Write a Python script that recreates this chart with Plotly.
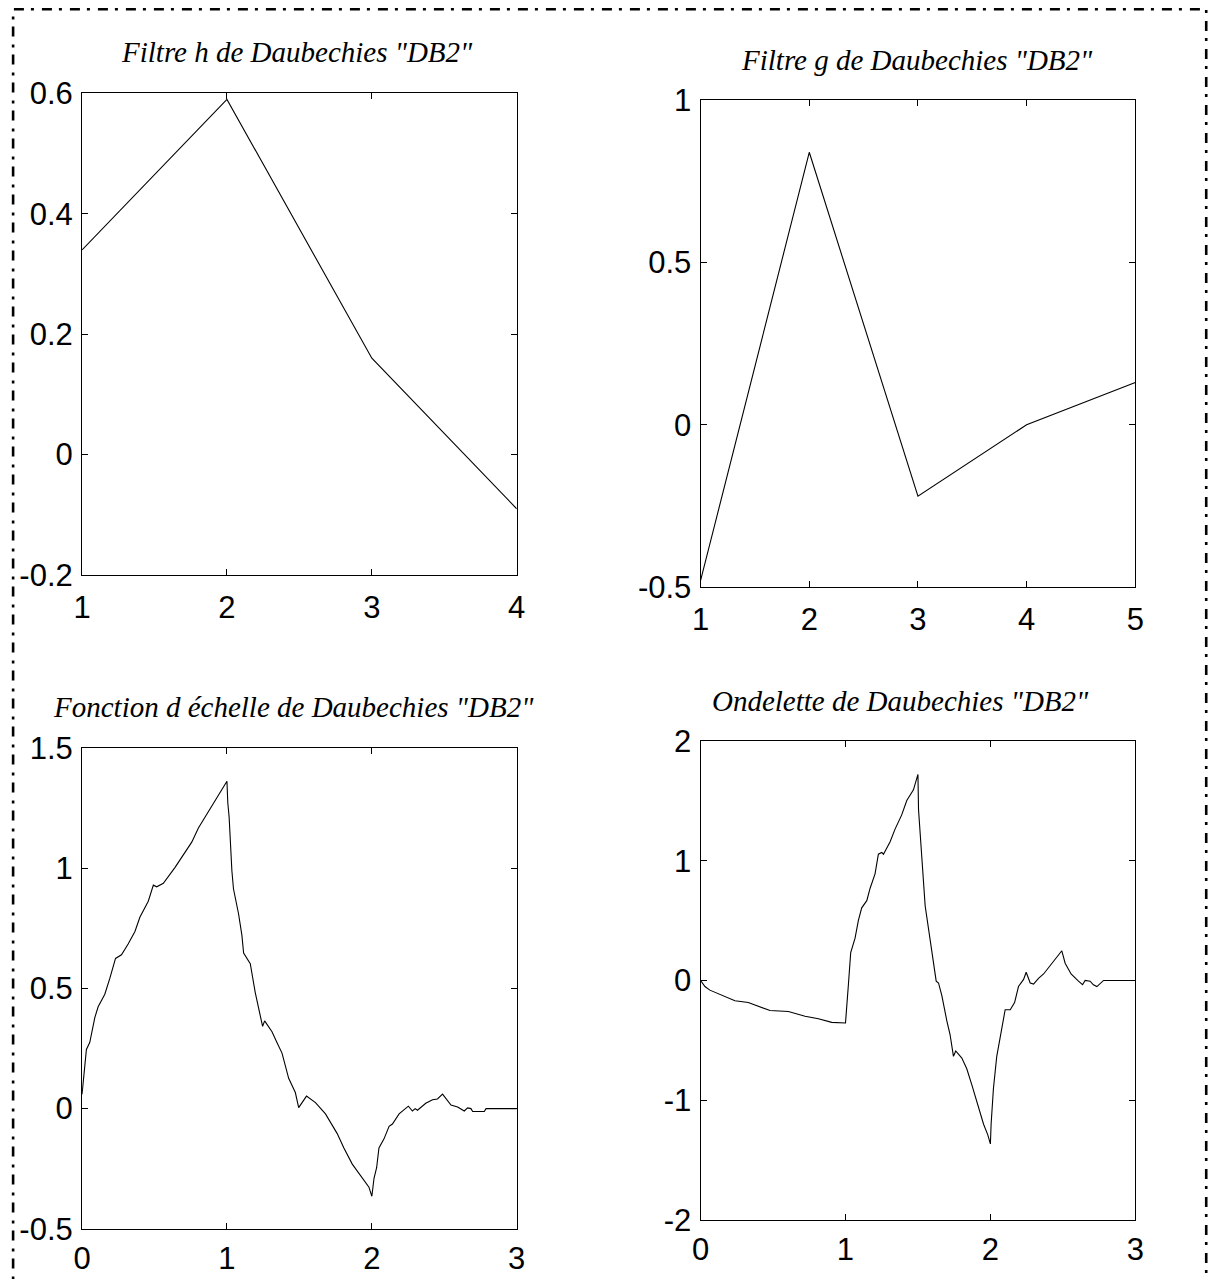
import plotly.graph_objects as go

# ---- data ----
h_n = [1, 2, 3, 4]
h_vals = [0.34, 0.59, 0.16, -0.09]

g_n = [1, 2, 3, 4, 5]
g_vals = [-0.48, 0.84, -0.22, 0.0, 0.13]

phi_t = [0, 0.014, 0.030, 0.053, 0.088, 0.111, 0.157, 0.192, 0.231, 0.272, 0.318, 0.365, 0.399, 0.457,
         0.492, 0.515, 0.561, 0.642, 0.757, 0.803, 0.872, 0.965, 1.0, 1.006, 1.015, 1.034, 1.045, 1.080,
         1.103, 1.115, 1.161, 1.195, 1.230, 1.246, 1.260, 1.311, 1.345, 1.380, 1.426, 1.472, 1.495, 1.549,
         1.611, 1.680, 1.761, 1.807, 1.865, 1.957, 1.980, 2.0, 2.015, 2.033, 2.049, 2.084, 2.119, 2.142,
         2.188, 2.252, 2.280, 2.299, 2.315, 2.372, 2.419, 2.453, 2.488, 2.546, 2.592, 2.638, 2.661, 2.684,
         2.696, 2.776, 2.788, 3.0]
phi_v = [0.06, 0.141, 0.246, 0.275, 0.379, 0.424, 0.476, 0.543, 0.625, 0.640, 0.685, 0.737, 0.796, 0.863,
         0.930, 0.923, 0.938, 1.004, 1.109, 1.168, 1.235, 1.324, 1.362, 1.272, 1.213, 0.990, 0.915, 0.811,
         0.722, 0.647, 0.603, 0.484, 0.394, 0.342, 0.365, 0.320, 0.275, 0.231, 0.126, 0.067, 0.004, 0.052,
         0.025, -0.022, -0.104, -0.164, -0.231, -0.305, -0.327, -0.365, -0.290, -0.246, -0.164, -0.126,
         -0.074, -0.064, -0.022, 0.010, -0.010, 0.0, -0.007, 0.022, 0.037, 0.040, 0.060, 0.015, 0.007,
         -0.010, 0.003, 0.0, -0.012, -0.012, 0.0, 0.0]

psi_t = [0, 0.030, 0.064, 0.145, 0.237, 0.329, 0.421, 0.479, 0.606, 0.721, 0.813, 0.905, 1.0, 1.008,
         1.020, 1.036, 1.066, 1.089, 1.112, 1.147, 1.170, 1.204, 1.227, 1.250, 1.262, 1.308, 1.342, 1.388,
         1.423, 1.469, 1.5, 1.504, 1.522, 1.538, 1.550, 1.573, 1.596, 1.626, 1.642, 1.665, 1.699, 1.722,
         1.745, 1.761, 1.803, 1.837, 1.872, 1.918, 1.953, 1.982, 2.0, 2.005, 2.021, 2.044, 2.068, 2.102,
         2.137, 2.167, 2.194, 2.229, 2.247, 2.275, 2.298, 2.332, 2.367, 2.424, 2.470, 2.493, 2.516, 2.557,
         2.608, 2.636, 2.654, 2.688, 2.711, 2.735, 2.781, 3.0]
psi_v = [0, -0.051, -0.081, -0.120, -0.170, -0.185, -0.224, -0.251, -0.260, -0.299, -0.320, -0.350,
         -0.356, -0.185, -0.036, 0.233, 0.353, 0.502, 0.607, 0.667, 0.771, 0.891, 1.055, 1.070, 1.055,
         1.160, 1.265, 1.384, 1.504, 1.593, 1.722, 1.429, 1.070, 0.831, 0.622, 0.442, 0.233, -0.006,
         -0.021, -0.126, -0.335, -0.454, -0.634, -0.589, -0.649, -0.738, -0.873, -1.067, -1.202, -1.291,
         -1.366, -1.202, -0.903, -0.634, -0.484, -0.245, -0.245, -0.185, -0.051, 0.009, 0.069, -0.021,
         -0.030, 0.018, 0.054, 0.144, 0.218, 0.248, 0.144, 0.054, -0.006, -0.036, 0.0, -0.006, -0.036,
         -0.051, 0.0, 0.0]

titles = ['Filtre h de Daubechies "DB2"', 'Filtre g de Daubechies "DB2"',
          'Fonction d échelle de Daubechies "DB2"', 'Ondelette de Daubechies "DB2"']

h_yticks = [-0.2, 0, 0.2, 0.4, 0.6]
h_ylabels = ["-0.2", "0", "0.2", "0.4", "0.6"]
g_yticks = [-0.5, 0, 0.5, 1]
g_ylabels = ["-0.5", "0", "0.5", "1"]
phi_yticks = [-0.5, 0, 0.5, 1, 1.5]
phi_ylabels = ["-0.5", "0", "0.5", "1", "1.5"]
psi_yticks = [-2, -1, 0, 1, 2]
psi_ylabels = ["-2", "-1", "0", "1", "2"]
t_ticks = [0, 1, 2, 3]

# page -> picture mapping observed in this renderer (offset + slight shrink)
SX, SY = 0.986, 0.972
OX, OY = 8.0, 17.2
W, H = 1222, 1305
TICKFONT = dict(family="Liberation Sans, Arial, sans-serif", size=31, color="black")
TITLEFONT = dict(family="Liberation Serif, Times New Roman, serif", size=29, color="black", style="italic")

def fx(X):
    return (X / SX - OX) / W

def fy(Y):
    return 1 - (Y / SY - OY) / H

def px_x(a, b):
    return [fx(a), fx(b)]

def px_y(top, bottom):
    return [fy(bottom), fy(top)]

fig = go.Figure()
line = dict(color="black", width=1.1)
fig.add_trace(go.Scatter(x=h_n, y=h_vals, mode="lines", line=line, xaxis="x", yaxis="y"))
fig.add_trace(go.Scatter(x=g_n, y=g_vals, mode="lines", line=line, xaxis="x2", yaxis="y2"))
fig.add_trace(go.Scatter(x=phi_t, y=phi_v, mode="lines", line=line, xaxis="x3", yaxis="y3"))
fig.add_trace(go.Scatter(x=psi_t, y=psi_v, mode="lines", line=line, xaxis="x4", yaxis="y4"))

common = dict(showline=True, linecolor="black", linewidth=1.2, mirror="ticks", ticks="inside",
              ticklen=6, tickcolor="black", tickwidth=1, showgrid=False, zeroline=False,
              tickfont=TICKFONT, fixedrange=True)

doms = {
    1: (px_x(81, 516), px_y(93, 574)),
    2: (px_x(700, 1135), px_y(100, 586)),
    3: (px_x(81, 516), px_y(747, 1227)),
    4: (px_x(700, 1135), px_y(740, 1218)),
}
xcfg = {
    1: dict(range=[1, 4], tickvals=h_n, ticktext=[str(v) for v in h_n]),
    2: dict(range=[1, 5], tickvals=g_n, ticktext=[str(v) for v in g_n]),
    3: dict(range=[0, 3], tickvals=t_ticks, ticktext=[str(v) for v in t_ticks]),
    4: dict(range=[0, 3], tickvals=t_ticks, ticktext=[str(v) for v in t_ticks]),
}
ycfg = {
    1: dict(range=[-0.2, 0.6], tickvals=h_yticks, ticktext=h_ylabels),
    2: dict(range=[-0.5, 1], tickvals=g_yticks, ticktext=g_ylabels),
    3: dict(range=[-0.5, 1.5], tickvals=phi_yticks, ticktext=phi_ylabels),
    4: dict(range=[-2, 2], tickvals=psi_yticks, ticktext=psi_ylabels),
}
x_standoff = {1: 5, 2: 5, 3: 2, 4: 2}
lay = {}
for i in range(1, 5):
    sx = "" if i == 1 else str(i)
    dx, dy = doms[i]
    lay["xaxis" + sx] = dict(common, domain=dx, anchor="y" + sx, ticklabelstandoff=x_standoff[i], **xcfg[i])
    lay["yaxis" + sx] = dict(common, domain=dy, anchor="x" + sx, ticklabelstandoff=2, **ycfg[i])

title_pos = [(296, 52), (917, 60), (293, 706), (900, 700)]
annotations = []
for (tx, ty), txt in zip(title_pos, titles):
    annotations.append(dict(text=txt, x=fx(tx), y=fy(ty), xref="paper", yref="paper",
                            xanchor="center", yanchor="middle", showarrow=False, font=TITLEFONT))

border = dict(type="rect", xref="paper", yref="paper", x0=fx(12), x1=fx(1206), y0=fy(1300), y1=fy(9),
              line=dict(color="black", width=2.6, dash="10px,8px,3px,7px"), fillcolor="rgba(0,0,0,0)")

fig.update_layout(width=W, height=H, margin=dict(l=0, r=0, t=0, b=0), showlegend=False,
                  paper_bgcolor="white", plot_bgcolor="white", annotations=annotations,
                  shapes=[border], **lay)

fig.write_html("out.html", config={"displayModeBar": False})
